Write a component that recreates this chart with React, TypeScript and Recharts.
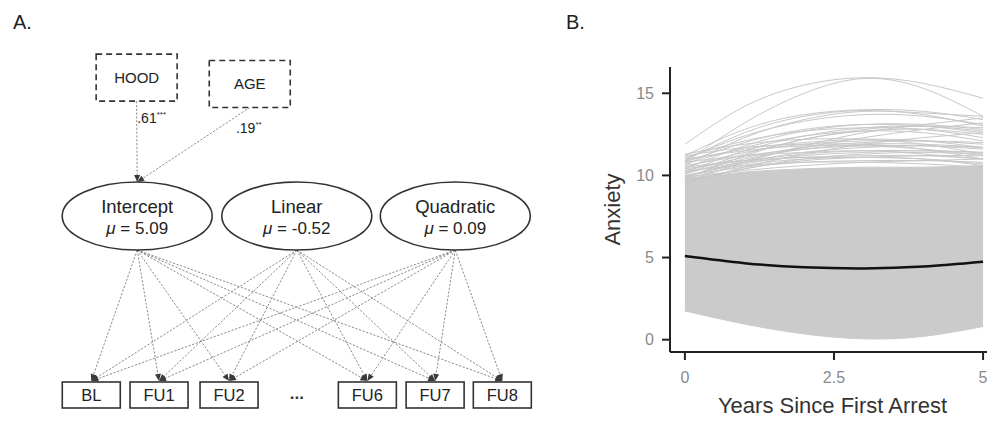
import React from 'react';
import {
  ScatterChart,
  Scatter,
  XAxis,
  YAxis,
  ReferenceLine,
  ComposedChart,
  Line,
  Area,
} from 'recharts';

// ---------- Panel A: path diagram (diagram units 0-100 on both axes) ----------
const covariates = [
  { name: 'HOOD', x: 24.4, y: 18.4 },
  { name: 'AGE', x: 44.6, y: 19.9 },
];
const covariatePaths = [
  { from: 'HOOD', to: 'Intercept', coef: '.61', stars: '***' },
  { from: 'AGE', to: 'Intercept', coef: '.19', stars: '**' },
];
const latentFactors = [
  { name: 'Intercept', mu: '5.09', x: 24.5, y: 51.2 },
  { name: 'Linear', mu: '-0.52', x: 53.0, y: 51.2 },
  { name: 'Quadratic', mu: '0.09', x: 81.3, y: 51.2 },
];
const observedWaves = [
  { name: 'BL', x: 16.3, y: 93.6 },
  { name: 'FU1', x: 28.4, y: 93.6 },
  { name: 'FU2', x: 40.9, y: 93.6 },
  { name: 'FU6', x: 65.6, y: 93.6 },
  { name: 'FU7', x: 77.7, y: 93.6 },
  { name: 'FU8', x: 89.7, y: 93.6 },
];
const omittedWaves = [{ name: '...', x: 53.0, y: 93.6 }];

// ---------- Panel B: trajectories ----------
const years = [0, 1, 2, 3, 4, 5];
const meanTrajectory = [5.09, 4.66, 4.41, 4.34, 4.45, 4.74];
const denseLow = [1.75, 0.95, 0.35, 0.05, 0.2, 0.8];
const denseHigh = [9.8, 10.2, 10.4, 10.5, 10.5, 10.6];
const upperTrajectories = [
  [11.9, 14.2, 15.5, 15.95, 15.6, 14.7],
  [10.8, 13.2, 15.0, 15.9, 15.3, 13.6],
  [11.2, 12.8, 13.7, 14.0, 13.9, 13.4],
  [10.9, 12.6, 13.6, 13.95, 13.7, 13.0],
  [10.6, 12.3, 13.4, 13.9, 13.8, 13.6],
  [11.0, 12.4, 13.3, 13.7, 13.6, 13.1],
  [10.8, 12.0, 12.8, 13.1, 13.0, 12.6],
  [11.1, 12.1, 12.7, 12.9, 12.8, 12.3],
  [10.4, 11.8, 12.7, 13.1, 13.1, 12.8],
  [10.2, 11.5, 12.4, 12.9, 13.0, 12.7],
  [10.7, 11.7, 12.4, 12.7, 12.6, 12.1],
  [9.8, 11.2, 12.2, 12.7, 12.8, 12.5],
  [10.9, 11.6, 12.0, 12.2, 12.1, 11.7],
  [10.5, 11.4, 11.9, 12.1, 12.1, 11.9],
  [10.3, 11.1, 11.7, 12.0, 12.1, 12.0],
  [11.0, 11.5, 11.8, 11.8, 11.6, 11.2],
  [10.6, 11.2, 11.6, 11.8, 11.8, 11.6],
  [10.1, 11.0, 11.6, 11.9, 11.9, 11.7],
  [9.9, 10.8, 11.4, 11.7, 11.8, 11.7],
  [10.4, 10.9, 11.3, 11.5, 11.5, 11.4],
  [10.8, 11.2, 11.4, 11.5, 11.3, 11.0],
  [10.0, 10.7, 11.2, 11.4, 11.5, 11.4],
  [10.2, 10.8, 11.1, 11.2, 11.2, 11.0],
  [10.5, 10.9, 11.1, 11.1, 11.0, 10.7],
  [9.7, 10.4, 10.9, 11.1, 11.2, 11.2],
  [10.0, 10.5, 10.8, 10.9, 10.9, 10.8],
  [10.3, 10.6, 10.8, 10.8, 10.7, 10.5],
  [9.9, 10.3, 10.6, 10.8, 10.9, 11.0],
  [9.6, 10.8, 11.8, 12.6, 13.1, 13.5],
  [9.9, 10.9, 11.7, 12.3, 12.8, 13.2],
  [10.1, 11.3, 12.2, 12.8, 13.0, 12.9],
  [9.5, 10.5, 11.3, 11.9, 12.3, 12.6],
  [11.3, 11.9, 12.2, 12.2, 11.9, 11.3],
  [11.2, 11.7, 11.9, 11.9, 11.6, 11.0],
  [9.6, 10.4, 11.0, 11.3, 11.4, 11.3],
  [9.8, 10.6, 11.0, 11.1, 11.0, 10.6],
];
const xTicks = [0, 2.5, 5];
const yTicks = [0, 5, 10, 15];
const xDomain = [-0.25, 5.2];
const yDomain = [-0.75, 16.6];

const trajectoryTable = years.map((t, i) => {
  const row: any = { t, band: [denseLow[i], denseHigh[i]], mean: meanTrajectory[i] };
  upperTrajectories.forEach((tr, k) => {
    row['c' + k] = tr[i];
  });
  return row;
});

// ---------- styles ----------
const FONT = 'Liberation Sans, Arial, Helvetica, sans-serif';
const ELL_RX = 75;
const ELL_RY = 34;
const BOX_W = 58;
const BOX_H = 26;
const COV_W = 81;
const COV_H = 47;
const COEF_OFFSETS = [
  { dx: 15, dy: 22 },
  { dx: -1, dy: 26 },
];
const AXIS_COLOR = '#222222';
const TICK_TEXT = '#8a8a8a';

function Edge(props: any) {
  const { x1, y1, x2, y2, sy, ey, label, stars, lo } = props;
  if ([x1, y1, x2, y2].some((v) => v == null || isNaN(v))) return null;
  const ax = x1, ay = y1 + sy, bx = x2, by = y2 + ey;
  const dx = bx - ax, dy = by - ay;
  const len = Math.hypot(dx, dy) || 1;
  const ux = dx / len, uy = dy / len;
  const hl = 7, hw = 3;
  const baseX = bx - ux * hl, baseY = by - uy * hl;
  const pts = `${bx},${by} ${baseX - uy * hw},${baseY + ux * hw} ${baseX + uy * hw},${baseY - ux * hw}`;
  return (
    <g>
      <line x1={ax} y1={ay} x2={baseX} y2={baseY} stroke="#7d7d7d" strokeWidth={0.9} strokeDasharray="2.2 1.6" />
      <polygon points={pts} fill="#3a3a3a" />
      {label ? (
        <text x={ax + lo.dx} y={ay + lo.dy} textAnchor="middle" fontFamily={FONT} fontSize={14} fill="#222">
          {label}
          <tspan fontSize={8} dy={-6}>{stars}</tspan>
        </text>
      ) : null}
    </g>
  );
}

function LatentShape(p: any) {
  const { cx, cy, payload } = p;
  return (
    <g>
      <ellipse cx={cx} cy={cy} rx={ELL_RX} ry={ELL_RY} fill="#fff" stroke="#333" strokeWidth={1.6} />
      <text x={cx} y={cy - 3} textAnchor="middle" fontFamily={FONT} fontSize={18.5} fill="#222">
        {payload.name}
      </text>
      <text x={cx} y={cy + 18} textAnchor="middle" fontFamily={FONT} fontSize={17} fill="#222">
        <tspan fontStyle="italic">μ</tspan>
        {' = ' + payload.mu}
      </text>
    </g>
  );
}

function BoxShape(p: any) {
  const { cx, cy, payload } = p;
  return (
    <g>
      <rect x={cx - BOX_W / 2} y={cy - BOX_H / 2} width={BOX_W} height={BOX_H} fill="#fff" stroke="#333" strokeWidth={1.6} />
      <text x={cx} y={cy + 6} textAnchor="middle" fontFamily={FONT} fontSize={16.5} fill="#222">
        {payload.name}
      </text>
    </g>
  );
}

function CovShape(p: any) {
  const { cx, cy, payload } = p;
  return (
    <g>
      <rect x={cx - COV_W / 2} y={cy - COV_H / 2} width={COV_W} height={COV_H} fill="#fff" stroke="#333" strokeWidth={1.6} strokeDasharray="6 4" />
      <text x={cx} y={cy + 5.5} textAnchor="middle" fontFamily={FONT} fontSize={15} fill="#222">
        {payload.name}
      </text>
    </g>
  );
}

function DotsShape(p: any) {
  const { cx, cy, payload } = p;
  return (
    <text x={cx} y={cy + 4} textAnchor="middle" fontFamily={FONT} fontSize={17} fontWeight="bold" fill="#333">
      {payload.name}
    </text>
  );
}

function PanelA() {
  const findNode = (n: string) => [...covariates, ...latentFactors].find((d) => d.name === n)!;
  return (
    <ScatterChart width={560} height={422} margin={{ top: 0, right: 0, bottom: 0, left: 0 }}>
      <XAxis type="number" dataKey="x" domain={[0, 100]} hide allowDataOverflow />
      <YAxis type="number" dataKey="y" domain={[0, 100]} reversed hide allowDataOverflow />
      {latentFactors.map((l) =>
        observedWaves.map((o) => (
          <ReferenceLine
            key={l.name + o.name}
            segment={[{ x: l.x, y: l.y }, { x: o.x, y: o.y }]}
            ifOverflow="visible"
            shape={(pp: any) => <Edge {...pp} sy={ELL_RY} ey={-BOX_H / 2 - 1} />}
          />
        ))
      )}
      {covariatePaths.map((c, i) => {
        const a = findNode(c.from);
        const b = findNode(c.to);
        return (
          <ReferenceLine
            key={c.from}
            segment={[{ x: a.x, y: a.y }, { x: b.x, y: b.y }]}
            ifOverflow="visible"
            shape={(pp: any) => (
              <Edge {...pp} sy={COV_H / 2} ey={-ELL_RY} label={c.coef} stars={c.stars} lo={COEF_OFFSETS[i]} />
            )}
          />
        );
      })}
      <Scatter data={covariates} shape={(p: any) => <CovShape {...p} />} isAnimationActive={false} />
      <Scatter data={latentFactors} shape={(p: any) => <LatentShape {...p} />} isAnimationActive={false} />
      <Scatter data={observedWaves} shape={(p: any) => <BoxShape {...p} />} isAnimationActive={false} />
      <Scatter data={omittedWaves} shape={(p: any) => <DotsShape {...p} />} isAnimationActive={false} />
    </ScatterChart>
  );
}

function PanelB() {
  return (
    <ComposedChart
      width={435}
      height={422}
      data={trajectoryTable}
      margin={{ top: 67, right: 0, bottom: 0, left: 0 }}
    >
      <Area
        dataKey="band"
        type="natural"
        fill="#cbcbcb"
        fillOpacity={1}
        stroke="#cbcbcb"
        strokeWidth={1}
        isAnimationActive={false}
      />
      {upperTrajectories.map((_, k) => (
        <Line
          key={k}
          dataKey={'c' + k}
          type="natural"
          stroke="#c8c8c8"
          strokeWidth={1}
          dot={false}
          activeDot={false}
          isAnimationActive={false}
        />
      ))}
      <Line dataKey="mean" type="natural" stroke="#111" strokeWidth={2.5} dot={false} activeDot={false} isAnimationActive={false} />
      <ReferenceLine x={xDomain[0]} stroke={AXIS_COLOR} strokeWidth={2} ifOverflow="visible" />
      <ReferenceLine y={yDomain[0]} stroke={AXIS_COLOR} strokeWidth={2} ifOverflow="visible" />
      <XAxis
        dataKey="t"
        type="number"
        domain={xDomain}
        ticks={xTicks}
        allowDataOverflow
        height={70}
        tickSize={8}
        tickMargin={12}
        axisLine={{ stroke: AXIS_COLOR, strokeWidth: 2 }}
        tickLine={{ stroke: AXIS_COLOR, strokeWidth: 2 }}
        tick={{ fontSize: 16, fill: TICK_TEXT, fontFamily: FONT }}
        label={{ value: 'Years Since First Arrest', position: 'insideBottom', offset: 9, style: { fontSize: 22, fill: '#333', fontFamily: FONT } }}
      />
      <YAxis
        type="number"
        domain={yDomain}
        ticks={yTicks}
        allowDataOverflow
        width={110}
        tickSize={8}
        tickMargin={8}
        axisLine={{ stroke: AXIS_COLOR, strokeWidth: 2 }}
        tickLine={{ stroke: AXIS_COLOR, strokeWidth: 2 }}
        tick={{ fontSize: 16, fill: TICK_TEXT, fontFamily: FONT }}
        label={{ value: 'Anxiety', angle: -90, position: 'center', dx: -3, style: { fontSize: 22, fill: '#333', fontFamily: FONT } }}
      />
    </ComposedChart>
  );
}

export default function App() {
  const panelLabel: React.CSSProperties = {
    position: 'absolute',
    fontFamily: FONT,
    fontSize: 20,
    lineHeight: '20px',
    color: '#222',
  };
  return (
    <div style={{ margin: -8, width: 995, height: 422, display: 'flex', flexDirection: 'row', background: '#fff' }}>
      <PanelA />
      <PanelB />
      <div style={{ ...panelLabel, left: 13, top: 12 }}>A.</div>
      <div style={{ ...panelLabel, left: 566, top: 12 }}>B.</div>
    </div>
  );
}
